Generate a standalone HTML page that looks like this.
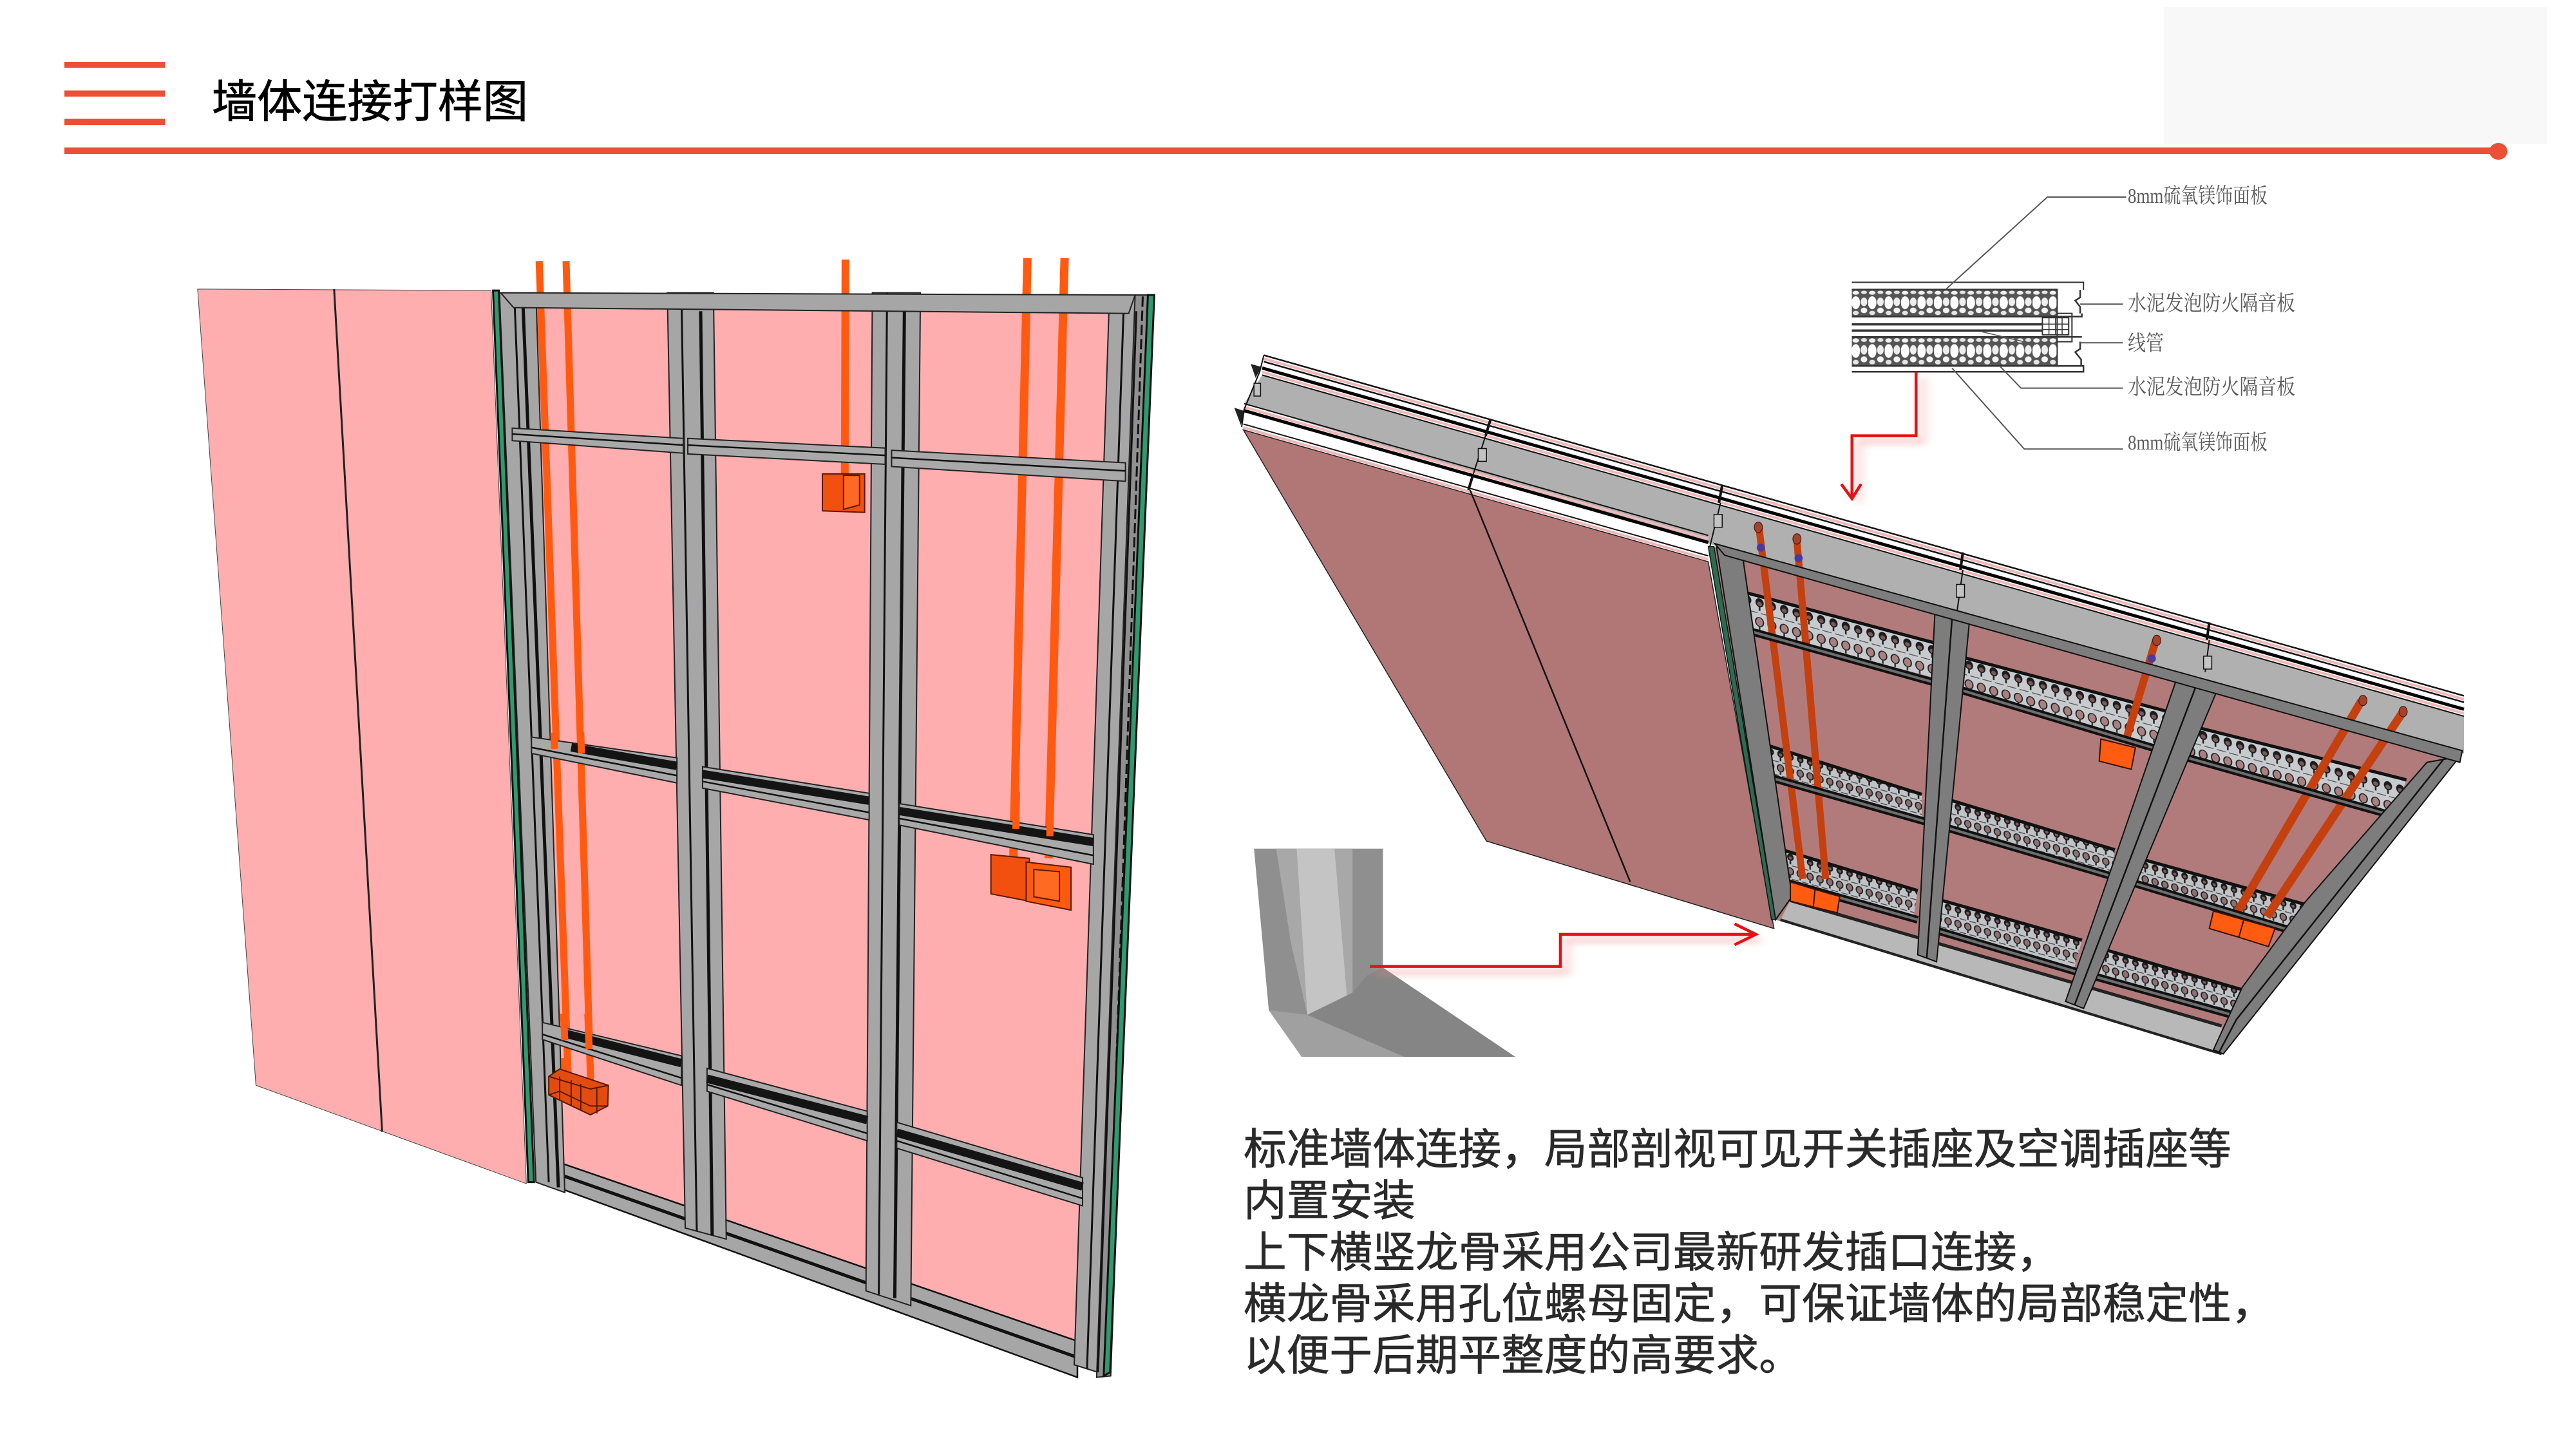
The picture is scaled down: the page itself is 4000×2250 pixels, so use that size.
<!DOCTYPE html>
<html lang="zh"><head><meta charset="utf-8"><title>墙体连接打样图</title>
<style>
html,body{margin:0;padding:0;background:#fff}
svg{display:block}
.ns *{vector-effect:non-scaling-stroke}
text{font-family:"Liberation Sans","Noto Sans CJK SC",sans-serif}
.lab{font-family:"Liberation Serif","Noto Serif CJK SC",serif;font-size:33px;fill:#5a5a5a}
.body{font-size:66.7px;fill:#2a2a2a;stroke:#2a2a2a;stroke-width:.7px}
</style></head><body>
<svg xmlns="http://www.w3.org/2000/svg" width="4000" height="2250" viewBox="0 0 4000 2250">
<defs>
<pattern id="perf" patternUnits="userSpaceOnUse" width="15" height="66" patternTransform="skewY(21)">
<rect width="15" height="66" fill="#c8cbce"/>
<ellipse cx="7.500" cy="11" rx="5" ry="7.500" fill="#1c1c1c"/>
<ellipse cx="7.500" cy="13" rx="3" ry="3.500" fill="#7d5a5a"/>
<rect x="6.500" y="18" width="2" height="7" fill="#222"/>
<path d="M0 29 H5 M9 29 H15" stroke="#555" stroke-width="1.500"/>
<ellipse cx="7.500" cy="44" rx="4.800" ry="7.500" fill="#a98080" stroke="#222" stroke-width="1.500"/>
<rect x="6.500" y="52" width="2" height="6" fill="#333"/>
<path d="M0 61 H5 M9 61 H15" stroke="#555" stroke-width="1.500"/>
</pattern>
<pattern id="perf2" patternUnits="userSpaceOnUse" width="12" height="50" patternTransform="skewY(21)">
<rect width="12" height="50" fill="#c0c3c6"/>
<ellipse cx="6" cy="9" rx="4" ry="6" fill="#1c1c1c"/>
<ellipse cx="6" cy="10" rx="2" ry="2.500" fill="#7d5a5a"/>
<rect x="5" y="15" width="2" height="6" fill="#222"/>
<path d="M0 23 H4 M8 23 H12" stroke="#444" stroke-width="1.500"/>
<ellipse cx="6" cy="33" rx="3.800" ry="6" fill="#8d7070" stroke="#222" stroke-width="1.500"/>
<rect x="5" y="39" width="2" height="5" fill="#333"/>
<path d="M0 46 H4 M8 46 H12" stroke="#444" stroke-width="1.500"/>
</pattern>
<pattern id="a1" href="#perf" y="485"/><pattern id="a2" href="#perf" y="494"/><pattern id="a3" href="#perf" y="505"/>
<pattern id="b1" href="#perf2" y="737"/><pattern id="b2" href="#perf2" y="745"/><pattern id="b3" href="#perf2" y="757"/>
<pattern id="c1" href="#perf2" y="909"/><pattern id="c2" href="#perf2" y="921"/><pattern id="c3" href="#perf2" y="929"/>
<pattern id="foam1" patternUnits="userSpaceOnUse" y="570" width="50" height="125">
<rect width="50" height="125" fill="#555"/>
<ellipse cx="12" cy="14" rx="10" ry="9" fill="#f2f2f2"/><ellipse cx="37" cy="12" rx="9" ry="8" fill="#e4e4e4"/>
<ellipse cx="12" cy="60" rx="13" ry="30" fill="#fff"/><ellipse cx="37" cy="56" rx="10" ry="20" fill="#eee"/>
<ellipse cx="37" cy="96" rx="10" ry="13" fill="#f4f4f4"/><ellipse cx="12" cy="108" rx="9" ry="10" fill="#e4e4e4"/>
</pattern>
<pattern id="foam2" patternUnits="userSpaceOnUse" y="790" width="50" height="135">
<rect width="50" height="135" fill="#555"/>
<ellipse cx="12" cy="16" rx="10" ry="10" fill="#f2f2f2"/><ellipse cx="37" cy="14" rx="9" ry="9" fill="#e4e4e4"/>
<ellipse cx="12" cy="65" rx="13" ry="32" fill="#fff"/><ellipse cx="37" cy="60" rx="10" ry="22" fill="#eee"/>
<ellipse cx="37" cy="104" rx="10" ry="14" fill="#f4f4f4"/><ellipse cx="12" cy="117" rx="9" ry="11" fill="#e4e4e4"/>
</pattern>
<filter id="sh" x="-20%" y="-20%" width="140%" height="140%"><feGaussianBlur stdDeviation="6"/></filter>
</defs>

<!-- header -->
<rect x="3360" y="11" width="595" height="213" fill="#f8f8f8"/>
<g fill="#e95035">
<rect x="100" y="96" width="156" height="9.5"/><rect x="100" y="140.500" width="156" height="9.5"/><rect x="100" y="184.500" width="156" height="9.5"/>
<rect x="100" y="229" width="3770" height="10"/>
<ellipse cx="3879.500" cy="235" rx="14" ry="13"/>
</g>
<text x="329" y="182" font-size="70" fill="#000" stroke="#000" stroke-width=".8" textLength="491" lengthAdjust="spacingAndGlyphs">墙体连接打样图</text>

<!-- LEFT WALL -->
<g class="ns" transform="translate(280,380) scale(.995,1.148)">
<polygon points="27,60 485,62 540,1270 118,1137" fill="#ffaeb0" stroke="#444" stroke-width="1"/>
<line x1="240" y1="60" x2="315" y2="1200" stroke="#222" stroke-width="3"/>
<polygon points="500,70 1480,80 1400,1510 570,1260" fill="#ffaeb0"/>

<!-- conduits -->
<g stroke="#ff5a10" fill="none">
<path d="M560 22 L605 1120" stroke-width="11"/>
<path d="M602 22 L640 1125" stroke-width="11"/>
<path d="M1038 20 L1037 310" stroke-width="12"/>
<path d="M1322 18 L1300 830" stroke-width="13"/>
<path d="M1380 18 L1355 830" stroke-width="13"/>
</g>

<!-- bottom rail (under studs) -->
<polygon points="560,1232 1400,1483 1400,1532 560,1266" fill="#a6a6a6" stroke="#111" stroke-width="2.500"/>
<path d="M580 1254 L1400 1505" stroke="#111" stroke-width="5" fill="none"/>

<!-- studs -->
<g fill="#a6a6a6" stroke="#222" stroke-width="2">
<polygon points="498,65 555,65 600,1282 555,1268"/>
<polygon points="760,65 832,65 852,1345 788,1330"/>
<polygon points="1080,65 1155,65 1140,1435 1070,1415"/>
<polygon points="1450,68 1510,68 1450,1530 1395,1515"/>
<polygon points="1490,68 1514,68 1452,1530 1430,1532" fill="#909090"/>
</g>
<g stroke="#111" fill="none">
<path d="M522 85 L575 1268" stroke-width="3"/><path d="M535 85 L590 1275" stroke-width="5"/>
<path d="M782 65 L806 1335" stroke-width="3"/><path d="M812 90 L830 1340" stroke-width="5"/>
<path d="M1103 65 L1090 1420" stroke-width="3"/><path d="M1130 90 L1115 1425" stroke-width="5"/>
<path d="M1472 90 L1415 1520" stroke-width="3"/><path d="M1492 90 L1432 1525" stroke-width="3"/>
<path d="M1502 70 L1444 1530" stroke-width="3" stroke-dasharray="16 6"/>
</g>
<polygon points="488,62 497,62 552,1268 543,1268" fill="#2f9a70" stroke="#111" stroke-width="3"/>
<polygon points="1510,68 1520,68 1451,1525 1441,1530" fill="#2f9a70" stroke="#111" stroke-width="3"/>

<!-- top rail -->
<polygon points="500,65 1490,68 1480,93 520,85" fill="#a6a6a6" stroke="#222" stroke-width="2"/>

<!-- noggins -->
<g fill="#a9a9a9" stroke="#222" stroke-width="2">
<polygon points="518,248 785,262 785,282 518,265"/>
<polygon points="792,262 1100,275 1100,297 792,283"/>
<polygon points="1110,278 1475,295 1475,320 1110,300"/>
<polygon points="548,666 775,694 775,728 548,688"/>
<polygon points="815,706 1075,742 1075,778 815,735"/>
<polygon points="1122,756 1425,798 1425,838 1122,785"/>
<polygon points="565,1052 782,1097 782,1137 565,1075"/>
<polygon points="822,1114 1072,1172 1072,1212 822,1145"/>
<polygon points="1118,1187 1408,1262 1408,1300 1118,1222"/>
</g>
<g fill="none" stroke="#111" stroke-width="2.500">
<path d="M518 256 L785 271 M792 271 L1100 285 M1110 288 L1475 306"/>
<path d="M548 680 L775 718 M815 726 L1075 768 M1122 776 L1425 826"/>
<path d="M565 1068 L782 1127 M822 1136 L1072 1202 M1118 1212 L1408 1290"/>
</g>
<g fill="none" stroke="#141414" stroke-width="13">
<path d="M610 680 L775 705 M815 716 L1075 752 M1122 766 L1425 808"/>
<path d="M600 1067 L782 1107 M822 1128 L1072 1184 M1118 1201 L1408 1274"/>
</g>
<!-- conduit in front of dark band -->
<g stroke="#ff5a10" fill="none" stroke-width="11">
<path d="M583 660 L584 682 M625 660 L626 688 M1305 740 L1304 790 M1358 740 L1357 800"/>
<path d="M598 1040 L600 1076 M636 1040 L638 1088"/>
<path d="M600 1100 L602 1120 M640 1108 L640 1130"/>
</g>

<!-- boxes -->
<g stroke="#5a1a00" stroke-width="2">
<polygon points="1002,310 1068,310 1068,362 1002,360" fill="#f2500f"/>
<polygon points="1035,312 1060,312 1060,352 1035,358" fill="#ff6a22"/>
<polygon points="1265,825 1325,830 1325,888 1265,878" fill="#f2500f"/>
<polygon points="1320,835 1390,842 1390,900 1320,888" fill="#ff5a10"/>
<polygon points="1332,845 1372,848 1372,888 1332,882" fill="#ff6a22"/>
<polygon points="575,1125 592,1115 668,1137 667,1165 640,1177 575,1150" fill="#e24c10"/>
<path d="M592 1125 V1158 M610 1130 V1165 M625 1135 V1170 M650 1140 V1175 M575 1125 L640 1142 L668 1137 M575 1150 L592 1145 L640 1165 L667 1165" fill="none"/>
</g>
</g>

<!-- RIGHT VIEW -->
<g class="ns" transform="translate(1900,260) scale(1.2755,.9056)">
<!-- gray band -->
<polygon points="47,356 1510,941 1510,1005 590,645 25,405" fill="#b0b0b0"/>
<polygon points="47,344 1510,929 1510,917 49,333" fill="#fff"/>
<polygon points="25,418 590,644 590,668 24,445" fill="#fff"/>
<g fill="none">
<path d="M49 322 L1510 906" stroke="#111" stroke-width="2.500"/>
<path d="M49 328 L1510 912" stroke="#efb8b8" stroke-width="4"/>
<path d="M49 333 L1510 917" stroke="#111" stroke-width="2.500"/>
<path d="M47 344 L1510 929" stroke="#000" stroke-width="5"/>
<path d="M47 351 L1510 936" stroke="#efb8b8" stroke-width="4"/>
<path d="M47 356 L1510 941" stroke="#111" stroke-width="2"/>
<path d="M25 405 L590 631" stroke="#111" stroke-width="2"/>
<path d="M25 411 L590 637" stroke="#efb8b8" stroke-width="4"/>
<path d="M25 417 L590 643" stroke="#000" stroke-width="5"/>
<path d="M24 440 L590 666" stroke="#111" stroke-width="2"/>
<path d="M24 446 L590 672" stroke="#efb8b8" stroke-width="4"/>
</g>
<polygon points="33,337 46,342 39,361" fill="#222"/><polygon points="13,412 26,418 21,442" fill="#222"/>

<!-- brown panels -->
<polygon points="24,450 590,676 670,1305 320,1155" fill="#b17676" stroke="#222" stroke-width="1.500"/>
<line x1="300" y1="553" x2="495" y2="1225" stroke="#111" stroke-width="2.500"/>
<polygon points="595,650 1505,1005 1215,1520 672,1290" fill="#b17b7b"/>

<!-- joint marks -->
<g stroke="#111" fill="none">
<path d="M49 322 L44 350 L25 415 L22 445" stroke-width="2"/>
<path d="M325 432 L319 460 M303 530 L298 553" stroke-width="4"/>
<path d="M319 460 L303 530 M605 575 L592 650 M900 690 L892 770 M1200 810 L1195 865" stroke-width="2"/>
<path d="M607 545 L603 575 M900 660 L897 690 M1200 780 L1197 810" stroke-width="4"/>
<rect x="310" y="482" width="10" height="22" fill="#c4c4c4" stroke-width="1.500"/><rect x="597" y="595" width="10" height="22" fill="#c4c4c4" stroke-width="1.500"/><rect x="892" y="715" width="10" height="22" fill="#c4c4c4" stroke-width="1.500"/><rect x="1193" y="838" width="10" height="22" fill="#c4c4c4" stroke-width="1.500"/>
<rect x="37" y="370" width="8" height="22" fill="#c4c4c4" stroke-width="1.500"/>
</g>

<!-- bottom gray -->
<polygon points="690,1257 1215,1472 1215,1520 678,1290" fill="#b8b8b8"/>
<path d="M690 1257 L1215 1472" stroke="#222" stroke-width="5" fill="none"/>
<path d="M678 1290 L1215 1520" stroke="#222" stroke-width="4" fill="none"/>

<!-- perforated bands -->
<polygon points="625,725 865,815 865,875 625,785" fill="url(#a1)"/>
<polygon points="900,840 1155,935 1150,1000 890,890" fill="url(#a2)"/>
<polygon points="1185,960 1440,1050 1425,1110 1170,1010" fill="url(#a3)"/>
<polygon points="660,990 850,1075 850,1120 655,1040" fill="url(#b1)"/>
<polygon points="885,1085 1085,1170 1080,1215 880,1130" fill="url(#b2)"/>
<polygon points="1115,1185 1320,1265 1310,1315 1110,1225" fill="url(#b3)"/>
<polygon points="680,1170 845,1240 840,1285 680,1220" fill="url(#c1)"/>
<polygon points="870,1255 1045,1325 1035,1375 865,1305" fill="url(#c2)"/>
<polygon points="1070,1340 1240,1410 1235,1450 1060,1385" fill="url(#c3)"/>
<g fill="none" stroke="#111" stroke-width="5">
<path d="M625 725 L865 815 M900 840 L1155 935 M1185 960 L1440 1050"/>
<path d="M660 990 L850 1075 M885 1085 L1085 1170 M1115 1185 L1320 1265"/>
<path d="M680 1170 L845 1240 M870 1255 L1045 1325 M1070 1340 L1240 1410"/>
</g>

<!-- conduits -->
<g fill="none" stroke="#c4400f">
<path d="M652 620 L705 1220" stroke-width="11"/>
<path d="M698 640 L733 1220" stroke-width="11"/>
<path d="M1135 810 L1100 975" stroke-width="12"/>
<path d="M1385 915 L1235 1275" stroke-width="13"/>
<path d="M1435 935 L1270 1285" stroke-width="13"/>
</g>
<g fill="#a5432a" stroke="#311" stroke-width="1">
<ellipse cx="651" cy="617" rx="5" ry="9"/><ellipse cx="698" cy="637" rx="5" ry="9"/><ellipse cx="1136" cy="811" rx="5" ry="9"/><ellipse cx="1387" cy="914" rx="5" ry="9"/><ellipse cx="1436" cy="933" rx="5" ry="9"/>
</g>
<g fill="#4a3a9a"><ellipse cx="654" cy="652" rx="5" ry="7"/><ellipse cx="700" cy="670" rx="5" ry="7"/><ellipse cx="1130" cy="842" rx="5" ry="7"/></g>

<!-- lower rails of perforated bands -->
<g fill="none" stroke="#111" stroke-width="12">
<path d="M620 787 L870 885 M888 892 L1150 1003 M1168 1010 L1440 1118"/>
<path d="M655 1042 L855 1122 M880 1132 L1085 1217 M1108 1227 L1315 1315"/>
<path d="M680 1224 L845 1290 M865 1307 L1040 1380 M1060 1387 L1235 1456"/>
</g>
<g fill="none" stroke="#6e6e6e" stroke-width="4">
<path d="M620 787 L870 885 M888 892 L1150 1003 M1168 1010 L1440 1118"/>
<path d="M655 1042 L855 1122 M880 1132 L1085 1217 M1108 1227 L1315 1315"/>
<path d="M680 1224 L845 1290 M865 1307 L1040 1380 M1060 1387 L1235 1456"/>
</g>

<!-- frame studs -->
<g fill="#7d7d7d" stroke="#111" stroke-width="2">
<polygon points="600,650 632,668 692,1250 672,1290"/>
<polygon points="866,762 908,778 868,1362 845,1350"/>
<polygon points="1160,878 1210,895 1047,1442 1025,1430"/>
<polygon points="1465,1020 1317,1259 1240,1406 1205,1513 1217,1520 1505,1010"/>
</g>
<g fill="none" stroke="#111" stroke-width="2.500">
<path d="M887 770 L856 1356 M1185 885 L1036 1436"/>
<path d="M1485 1015 L1233 1461 L1212 1517"/>
</g>
<polygon points="590,650 597,650 672,1290 667,1290" fill="#2d6b52" stroke="#111" stroke-width="1.500"/>
<polygon points="598,645 1508,1000 1505,1020 610,665" fill="#7d7d7d" stroke="#111" stroke-width="2"/>

<!-- boxes -->
<g fill="#ff5c12" stroke="#3a1200" stroke-width="2">
<polygon points="1068,980 1110,995 1105,1032 1066,1018"/>
<polygon points="690,1225 720,1238 718,1268 690,1258"/>
<polygon points="720,1238 750,1250 747,1278 718,1268"/>
<polygon points="1205,1275 1242,1290 1236,1320 1200,1305"/>
<polygon points="1242,1290 1280,1305 1272,1336 1236,1320"/>
</g>

<!-- inset -->
<polygon points="37,1168 194,1168 194,1372 355,1525 95,1525 55,1445" fill="#8f8f8f"/>
<polygon points="64,1168 157,1168 157,1415 102,1453 82,1330" fill="#a8a8a8"/>
<polygon points="89,1168 135,1168 150,1420 102,1453" fill="#c4c4c4"/>
<polygon points="55,1445 102,1453 220,1525 95,1525" fill="#a0a0a0"/>
<polygon points="102,1453 157,1415 175,1385 194,1372 355,1525 220,1525" fill="#858585"/>
</g>

<!-- SECTION DETAIL -->
<g class="ns" transform="translate(2850,260) scale(.5102,.3333)">
<rect x="50" y="535" width="705" height="35" fill="#fff"/>
<rect x="50" y="570" width="625" height="125" fill="url(#foam1)"/>
<rect x="50" y="790" width="625" height="135" fill="url(#foam2)"/>
<g stroke="#333" fill="none">
<path d="M50 535 H755 V570 M50 568 H675 V925" stroke-width="2"/>
<path d="M50 695 H750 V680 M50 790 H750 M50 925 H755 V952 H50" stroke-width="2.500"/>
<path d="M50 731 H630 M50 760 H630" stroke-width="3.500"/>
<path d="M675 680 H720 V812 H675" stroke-width="2"/>
<path d="M745 570 L745 605 L730 620 L745 650 V680 M745 812 V845 L730 860 L748 895 V925 H675" stroke-width="2.500"/>
<rect x="630" y="700" width="80" height="80" stroke-width="2"/>
<path d="M650 700 V780 M670 700 V780 M690 700 V780 M630 730 H710 M630 755 H710" stroke-width="1.500"/>
</g>
<g stroke="#555" fill="none" stroke-width="2">
<path d="M338 565 L645 138 H885"/>
<path d="M745 637 H875"/>
<path d="M745 817 H875"/>
<path d="M500 925 L565 1028 H875"/>
<path d="M355 935 L575 1312 H875"/>
<path d="M445 765 L610 825" stroke-width="1.500"/>
</g>
</g>
<text class="lab" x="3304" y="315" textLength="217" lengthAdjust="spacingAndGlyphs">8mm硫氧镁饰面板</text>
<text class="lab" x="3304" y="482" textLength="260" lengthAdjust="spacingAndGlyphs">水泥发泡防火隔音板</text>
<text class="lab" x="3304" y="544" textLength="56" lengthAdjust="spacingAndGlyphs">线管</text>
<text class="lab" x="3304" y="612" textLength="260" lengthAdjust="spacingAndGlyphs">水泥发泡防火隔音板</text>
<text class="lab" x="3304" y="698" textLength="217" lengthAdjust="spacingAndGlyphs">8mm硫氧镁饰面板</text>

<!-- red arrows -->
<g transform="translate(1900,260) scale(1.2755,.9056)" class="ns">
<g fill="none" stroke="#e88" stroke-width="6" filter="url(#sh)" opacity=".6" transform="translate(8,10)">
<path d="M843 350 V460 H765 V565"/><path d="M178 1370 H410 V1315 H645"/>
</g>
<g fill="none" stroke="#e81010" stroke-width="4.500">
<path d="M843 350 V460 H765 V565"/><path d="M752 543 L765 568 L776 543"/>
<path d="M178 1370 H410 V1315 H645"/><path d="M622 1297 L648 1315 L622 1333"/>
</g>
</g>

<!-- body text -->
<g class="body">
<text x="1931" y="1807.500">标准墙体连接，局部剖视可见开关插座及空调插座等</text>
<text x="1931" y="1887.500">内置安装</text>
<text x="1931" y="1967.500">上下横竖龙骨采用公司最新研发插口连接，</text>
<text x="1931" y="2047.500">横龙骨采用孔位螺母固定，可保证墙体的局部稳定性，</text>
<text x="1931" y="2127.500">以便于后期平整度的高要求。</text>
</g>
</svg>
</body></html>
